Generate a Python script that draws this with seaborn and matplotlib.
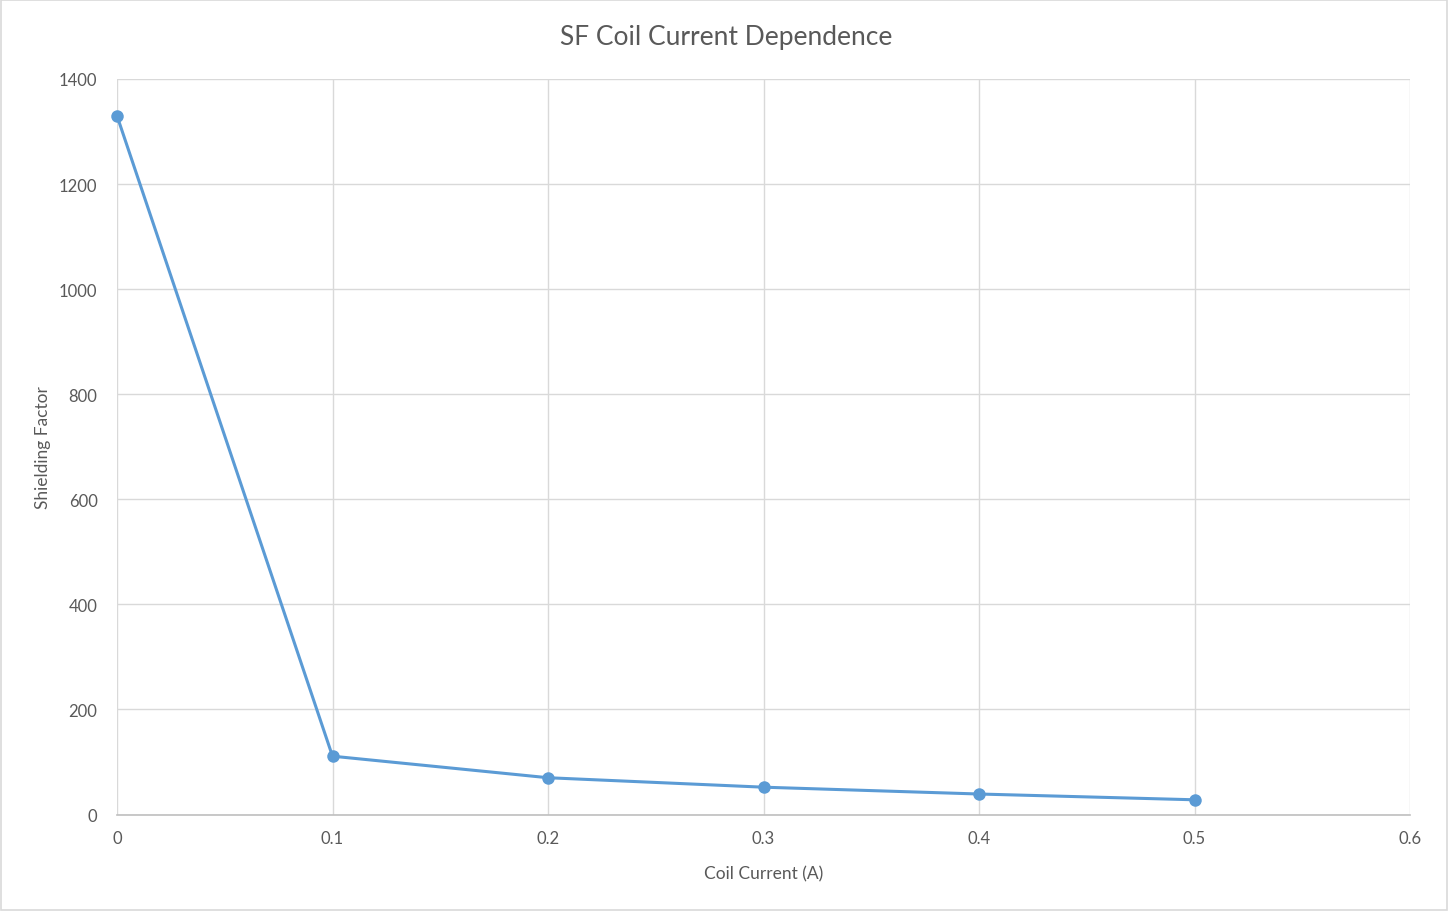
import matplotlib
matplotlib.use("Agg")
import matplotlib.pyplot as plt
import seaborn as sns
import pandas as pd
from matplotlib.patches import Rectangle

# Measured shielding factor versus SF coil current
coil_current = [0.0, 0.1, 0.2, 0.3, 0.4, 0.5]
shielding_factor = [1330, 111, 70, 52, 39, 28]
x_ticks = [0, 0.1, 0.2, 0.3, 0.4, 0.5, 0.6]
x_tick_labels = ["0", "0.1", "0.2", "0.3", "0.4", "0.5", "0.6"]
y_ticks = [0, 200, 400, 600, 800, 1000, 1200, 1400]

sns.set_theme(style="white")
plt.rcParams["font.family"] = ["Lato", "DejaVu Sans"]

text_color = "#595959"
grid_color = "#D9D9D9"
line_color = "#5B9BD5"

df = pd.DataFrame({"Coil Current (A)": coil_current, "Shielding Factor": shielding_factor})

fig = plt.figure(figsize=(14.48, 9.12), dpi=100)
ax = fig.add_axes([117 / 1448, 1 - 815.5 / 912, (1410 - 117) / 1448, (815.5 - 80) / 912])

sns.lineplot(data=df, x="Coil Current (A)", y="Shielding Factor", ax=ax,
             color=line_color, linewidth=2.2, marker="o", markersize=9,
             markeredgewidth=0, markerfacecolor=line_color, clip_on=False)

ax.set_xlim(0, 0.6)
ax.set_ylim(0, 1400)
ax.set_xticks(x_ticks)
ax.set_xticklabels(x_tick_labels)
ax.set_yticks(y_ticks)

ax.grid(True, color=grid_color, linewidth=1.0)
ax.set_axisbelow(True)
for side in ["top", "right", "left"]:
    ax.spines[side].set_visible(False)
ax.spines["bottom"].set_color("#BFBFBF")
ax.spines["bottom"].set_linewidth(1.2)

ax.tick_params(axis="both", length=0, labelsize=12, labelcolor=text_color)
ax.tick_params(axis="x", pad=11)
ax.tick_params(axis="y", pad=14)

ax.set_xlabel("Coil Current (A)", fontsize=12.5, color=text_color, labelpad=14)
ax.set_ylabel("Shielding Factor", fontsize=12.5, color=text_color, labelpad=6)

fig.text(0.5 + 2 / 1448, 1 - 38 / 912, "SF Coil Current Dependence", ha="center", va="center",
         fontsize=19, color=text_color)

# Thin frame around the chart area
fig.patches.append(Rectangle((0.0005, 0.001), 0.999, 0.998, transform=fig.transFigure,
                             fill=False, edgecolor="#D9D9D9", linewidth=1.2))

fig.savefig("out.png", dpi=100, facecolor="white")
